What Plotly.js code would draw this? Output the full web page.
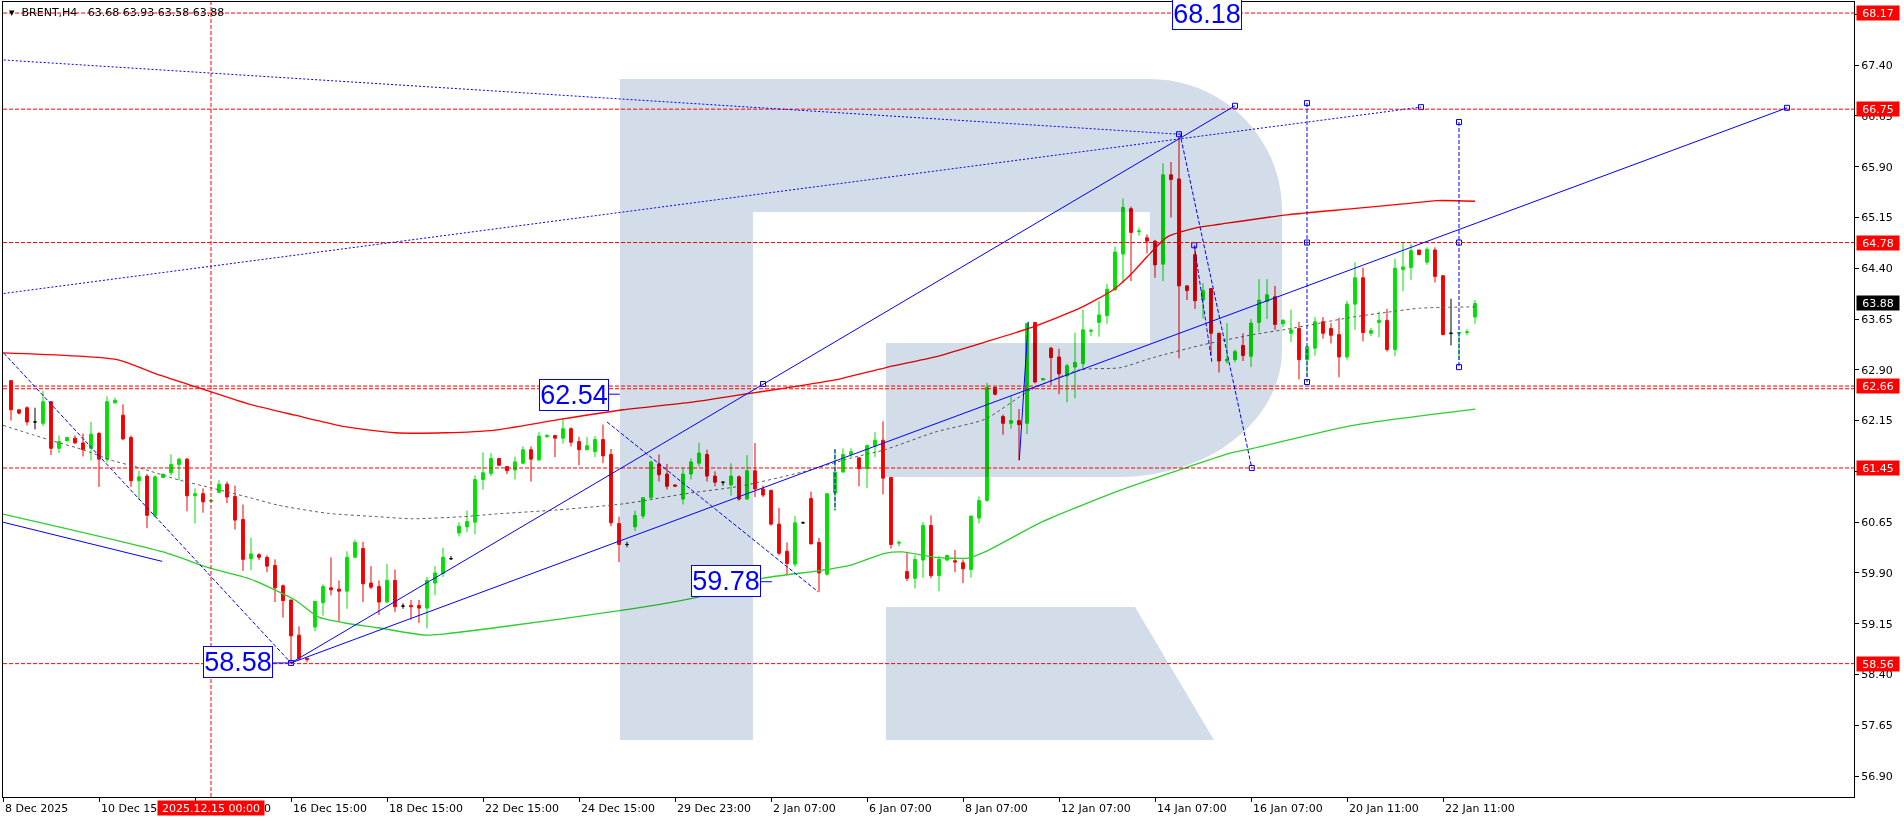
<!DOCTYPE html>
<html><head><meta charset="utf-8">
<script src="https://cdn.plot.ly/plotly-3.0.1.min.js"></script>
<style>html,body{margin:0;padding:0;background:#fff;overflow:hidden}#chart{width:1904px;height:821px}</style>
</head><body><div id="chart"></div>
<script>
// ---------- DATA (bar index = position of H4 bar) ----------
const open  = [62.74,62.31,62.34,62.13,62.11,62.43,61.74,61.85,61.89,61.82,61.74,61.96,61.58,62.41,62.23,61.90,61.26,61.33,60.74,61.31,
61.38,61.50,61.58,61.04,61.07,60.96,61.09,61.21,61.03,60.69,60.11,60.17,60.13,60.01,59.71,59.50,58.98,58.64,59.10,59.46,
59.68,59.66,59.63,60.13,60.26,59.75,59.70,59.47,59.79,59.41,59.42,59.42,59.38,59.75,59.89,60.11,60.49,60.58,60.65,61.28,
61.37,61.59,61.47,61.42,61.52,61.72,61.57,61.91,61.93,61.89,62.03,61.84,61.72,61.69,61.87,61.65,60.63,60.32,60.58,60.74,
61.01,61.51,61.36,61.20,60.99,61.36,61.52,61.65,61.33,61.24,61.20,61.32,60.99,61.41,61.14,61.12,60.62,60.22,60.03,60.64,
61.00,60.35,59.88,61.08,61.39,61.65,61.60,61.44,61.77,61.86,61.31,60.34,59.92,59.82,60.09,60.60,59.86,60.09,60.08,60.05,
59.95,60.71,60.97,62.64,62.21,62.11,62.15,62.11,63.60,62.75,63.22,63.09,62.81,62.94,62.99,63.47,63.60,63.70,64.08,64.61,
65.28,64.94,64.85,64.80,64.46,65.78,65.72,64.14,64.60,63.93,64.10,63.44,63.03,63.05,63.26,63.10,63.60,63.91,63.98,63.58,
63.44,63.51,63.05,63.22,63.61,63.51,63.42,63.09,63.87,64.26,63.44,63.60,63.63,63.20,64.38,64.41,64.67,64.49,64.67,64.29,
63.44,63.44,63.45,63.68];
const high  = [62.74,62.31,62.36,62.34,62.59,62.43,61.93,61.90,61.93,61.96,62.13,61.98,62.51,62.49,62.39,61.93,61.41,61.36,61.34,61.36,
61.65,61.60,61.60,61.15,61.15,60.99,61.27,61.25,61.19,60.91,60.42,60.19,60.16,60.10,59.73,59.50,59.11,58.64,59.48,59.73,
60.13,59.79,60.22,60.39,60.36,60.00,59.79,60.03,59.95,59.45,59.50,59.50,59.84,60.00,60.27,60.15,60.65,60.82,61.34,61.68,
61.67,61.59,61.47,61.62,61.77,61.77,61.98,61.95,61.93,62.19,62.05,61.91,61.91,61.92,62.09,61.73,60.73,60.36,60.82,61.02,
61.56,61.65,61.51,61.20,61.45,61.59,61.82,61.72,61.40,61.24,61.52,61.34,61.64,61.82,61.19,61.12,60.86,60.35,60.74,60.66,
61.10,60.42,61.08,61.72,61.74,61.74,61.60,61.80,61.98,62.14,61.31,60.38,60.20,60.16,60.65,60.75,60.15,60.16,60.24,60.10,
60.74,61.03,62.71,62.64,62.24,62.52,62.32,63.60,63.60,62.77,63.24,63.21,62.99,63.45,63.79,63.51,63.92,64.17,64.72,65.43,
65.31,65.00,64.90,64.82,65.95,65.97,66.34,64.14,64.73,64.18,64.10,63.45,63.59,63.20,63.44,63.65,64.24,64.24,64.14,63.65,
63.79,63.61,63.24,63.68,63.68,63.59,63.67,63.92,64.49,64.41,63.52,63.76,63.80,64.54,64.78,64.76,64.67,64.71,64.71,64.30,
63.95,63.45,63.50,63.93];
const low   = [62.15,62.24,62.08,62.02,62.07,61.64,61.67,61.85,61.81,61.62,61.56,61.17,61.53,62.41,61.86,61.17,60.98,60.56,60.73,61.30,
61.34,61.27,60.81,60.63,60.79,60.94,61.08,60.93,60.54,59.93,59.94,60.09,59.91,59.47,59.24,58.57,58.61,58.58,59.04,59.27,
59.57,59.18,59.37,60.13,59.47,59.66,59.28,59.46,59.32,59.37,59.21,59.16,59.08,59.57,59.84,60.09,60.44,60.50,60.47,61.13,
61.33,61.49,61.36,61.28,61.51,61.25,61.55,61.90,61.61,61.81,61.77,61.49,61.71,61.61,61.52,60.59,60.06,60.28,60.52,60.70,
61.00,61.25,61.13,61.18,60.91,61.28,61.47,61.25,61.18,61.19,61.04,60.97,60.99,61.02,61.02,60.60,60.16,59.87,59.99,60.63,
60.32,59.62,59.86,60.82,61.38,61.61,61.18,61.15,61.61,61.06,60.26,60.29,59.78,59.67,59.83,59.82,59.63,60.07,59.91,59.75,
59.83,60.63,60.95,62.52,61.94,62.03,61.56,61.95,62.70,62.75,62.67,62.54,62.42,62.48,62.92,63.40,63.39,63.58,64.07,64.18,
64.21,64.88,64.62,64.26,64.21,65.15,63.07,63.93,63.80,63.66,63.12,62.86,62.99,63.01,63.03,62.94,63.46,63.65,63.49,63.53,
63.31,62.76,62.80,63.11,63.36,63.29,62.79,63.05,63.49,63.32,63.40,63.38,63.17,63.10,64.06,64.23,64.60,64.45,64.19,63.41,
63.26,63.05,63.41,63.58];
const close = [62.31,62.26,62.13,62.13,62.43,61.74,61.84,61.90,61.82,61.72,61.95,61.58,62.43,62.45,61.88,61.26,61.32,60.75,61.32,61.36,
61.50,61.58,61.04,61.07,60.95,60.97,61.21,61.02,60.68,60.10,60.18,60.13,60.00,59.68,59.49,58.97,58.64,58.62,59.48,59.70,
59.65,59.63,60.13,60.35,59.74,59.69,59.47,59.79,59.40,59.41,59.40,59.38,59.79,59.90,60.13,60.11,60.59,60.66,61.28,61.38,
61.59,61.49,61.41,61.54,61.72,61.58,61.92,61.93,61.89,62.03,61.83,61.72,61.78,61.87,61.63,60.64,60.32,60.32,60.75,61.01,
61.54,61.35,61.18,61.18,61.36,61.54,61.67,61.33,61.24,61.24,61.33,60.99,61.41,61.14,61.05,60.62,60.19,60.04,60.64,60.64,
60.33,59.90,61.07,61.39,61.65,61.69,61.44,61.78,61.86,61.30,60.32,60.35,59.82,60.10,60.60,59.86,60.10,60.16,60.06,59.96,
60.74,60.97,62.64,62.54,62.11,62.15,62.09,63.58,62.72,62.77,63.08,62.84,62.96,63.01,63.49,63.48,63.71,64.09,64.64,65.30,
64.93,64.95,64.80,64.45,65.78,65.71,64.14,64.07,63.92,64.07,63.44,63.03,63.06,63.17,63.11,63.59,63.93,64.01,63.57,63.63,
63.49,63.05,63.24,63.61,63.44,63.41,63.09,63.87,64.26,63.45,63.48,63.63,63.20,64.40,64.42,64.66,64.60,64.68,64.28,63.42,
63.44,63.45,63.46,63.88];

// time axis labels (bar index of each label)
const timeTickIndex = [-1,11,23,35,47,59,71,83,95,107,119,131,143,155,167,179];
const timeTickLabels = ['8 Dec 2025','10 Dec 15:00','12 Dec 15:00','16 Dec 15:00','18 Dec 15:00','22 Dec 15:00','24 Dec 15:00',
  '29 Dec 23:00','2 Jan 07:00','6 Jan 07:00','8 Jan 07:00','12 Jan 07:00','14 Jan 07:00','16 Jan 07:00','20 Jan 11:00','22 Jan 11:00'];
const crosshairIndex = 25;
const crosshairLabel = '2025.12.15 00:00';

// price axis
const priceTicks = [56.90,57.65,58.40,59.15,59.90,60.65,61.40,62.15,62.90,63.65,64.40,65.15,65.90,66.65,67.40,68.15];
const levelPrices = [68.17,66.75,64.78,62.66,61.45,58.56];
const extraLevel = [62.62];
const lastPrice = 63.88;

// moving averages, read at sampled bars
const redMaIdx = [-1,13.25,18.6,23.6,29.9,35.5,41.75,48,54.25,60.5,68.25,76.5,84.9,91.1,96.75,103,109.25,115.5,121.75,127.4,133.6,137.75,139.9,142,144.5,148.25,151.1,159.5,167.75,174,178.25,183];
const redMaVal = [63.15,63.05,62.82,62.63,62.39,62.23,62.06,61.97,61.97,62.01,62.16,62.31,62.42,62.53,62.63,62.75,62.93,63.09,63.31,63.52,63.81,64.08,64.30,64.57,64.86,65.00,65.05,65.19,65.28,65.35,65.40,65.39];
const greenMaIdx = [-1,19,24.9,29.9,35.5,38.4,41.75,45.9,51.75,54.25,60.5,76.5,85.75,93.9,100.9,105.1,109.25,111.4,115.5,119.6,121.75,129,138.6,147,152.4,155.25,167.75,183];
const greenMaVal = [60.77,60.21,59.97,59.81,59.50,59.25,59.16,59.09,58.98,59.00,59.09,59.35,59.54,59.82,59.93,60.02,60.19,60.21,60.13,60.12,60.21,60.66,61.12,61.46,61.67,61.74,62.08,62.32];
const greyMaIdx = [-1,2.75,4.9,9,12.4,16.1,21.1,25.25,29.9,33.4,39.6,45.9,50.1,56.4,60.5,68.25,76.5,84.9,91.1,98.9,105.1,109.25,115.5,121.75,127.4,133.6,138.6,142.75,149,155.25,159.5,163.6,167.75,172,176.1,183];
const greyMaVal = [62.08,61.94,61.86,61.72,61.57,61.45,61.27,61.15,61.01,60.90,60.78,60.73,60.70,60.73,60.77,60.83,60.92,61.08,61.18,61.39,61.60,61.72,61.98,62.17,62.60,62.90,62.93,63.08,63.27,63.42,63.50,63.59,63.68,63.75,63.81,63.83];

// drawn objects (bar index, price)
const solidLines  = [[35,58.57,153,66.80],[35,58.57,222,66.77],[-1.04,60.65,18.9,60.07],[126.04,61.57,127.16,63.61],
                     [32.75,58.57,35,58.57],[74.75,62.54,76.1,62.54],[93.75,59.77,95.1,59.77]];
const dottedLines = [[-1.4,67.48,146,66.38],[-1.4,64.02,176.25,66.78]];
const dashedLines = [[-1.4,63.21,35,58.57],[74.5,62.13,100.9,59.62],[146.1,66.40,155.1,61.45],[147.9,64.74,150.1,63.02],
                     [103,61.73,103,60.83],[162,66.84,162,62.72],[181,66.56,181,62.94]];
const anchorIdx   = [35,94,153,222,176.25,162,162,162,181,181,181,155.1,146,147.9];
const anchorPrice = [58.57,62.69,66.80,66.77,66.78,66.84,64.78,62.72,66.56,64.78,62.94,61.45,66.38,64.74];
const boxLabels = ['58.58','62.54','59.78','68.18'];
const boxIdx    = [28.4,70.4,89.4,149.5];
const boxPrice  = [58.58,62.535,59.78,68.15];
const headerText = '\u25BE\u00A0\u00A0BRENT,H4\u00A0\u00A0\u00A063.68\u00A063.93\u00A063.58\u00A063.88';

// ---------- STYLE / LAYOUT ----------
const W = 1904, H = 821, PL = 3, PR = 1854, PT = 2, PB = 797;
const UP = '#00e000', DN = '#f00000', BLUE = '#0000ff', LEVEL = '#ff0000';
const FONT = 'DejaVu Sans';

const idx = open.map((_, k) => k);
const normal = idx.filter(k => open[k] !== close[k]);
const doji = idx.filter(k => open[k] === close[k]);
const pick = (a, ks) => ks.map(k => a[k]);

const traces = [
  {type:'candlestick', x:normal, open:pick(open,normal), high:pick(high,normal), low:pick(low,normal), close:pick(close,normal),
   increasing:{line:{color:UP,width:1}, fillcolor:UP}, decreasing:{line:{color:DN,width:1}, fillcolor:DN},
   whiskerwidth:0, hoverinfo:'skip', showlegend:false},
  {type:'candlestick', x:doji, open:pick(open,doji), high:pick(high,doji), low:pick(low,doji), close:pick(close,doji),
   increasing:{line:{color:'#000',width:1}, fillcolor:'#000'}, decreasing:{line:{color:'#000',width:1}, fillcolor:'#000'},
   whiskerwidth:0, hoverinfo:'skip', showlegend:false},
  {type:'scatter', mode:'lines', x:redMaIdx, y:redMaVal, line:{color:'#ff0000', width:1.3, shape:'spline', smoothing:0.6}, hoverinfo:'skip'},
  {type:'scatter', mode:'lines', x:greenMaIdx, y:greenMaVal, line:{color:'#2fcc2f', width:1.3, shape:'spline', smoothing:0.6}, hoverinfo:'skip'},
  {type:'scatter', mode:'lines', x:greyMaIdx, y:greyMaVal, line:{color:'#5e5e5e', width:1, dash:'3px,3px', shape:'spline', smoothing:0.6}, hoverinfo:'skip'},
  {type:'scatter', mode:'markers', x:anchorIdx, y:anchorPrice, marker:{symbol:'square-open', size:5, color:BLUE, line:{width:1, color:BLUE}}, hoverinfo:'skip', cliponaxis:true}
];

// logo (pixel geometry -> paper)
const px = x => ((x - PL) / (PR - PL)).toFixed(5);
const py = y => ((PB - y) / (PB - PT)).toFixed(5);
const pt = (x, y) => px(x) + ',' + py(y);
const logoBody = 'M' + pt(620,79) + ' L' + pt(1150,79) + ' C' + pt(1223,79) + ' ' + pt(1282,138) + ' ' + pt(1282,210) +
  ' L' + pt(1282,350) + ' C' + pt(1282,420) + ' ' + pt(1209,477) + ' ' + pt(1120,477) + ' L' + pt(886,477) + ' L' + pt(886,343) +
  ' L' + pt(1150,343) + ' L' + pt(1150,212) + ' L' + pt(753,212) + ' L' + pt(753,740) + ' L' + pt(620,740) + ' Z';
const logoLeg = 'M' + pt(886,607) + ' L' + pt(1135,607) + ' L' + pt(1214,740) + ' L' + pt(886,740) + ' Z';

// logo drawn over the price data and multiplied with it (like the terminal's background bitmap)
const shapes = [
  {type:'path', xref:'paper', yref:'paper', path:logoBody, fillcolor:'#d3dde9', line:{width:0}, layer:'above'},
  {type:'path', xref:'paper', yref:'paper', path:logoLeg, fillcolor:'#d3dde9', line:{width:0}, layer:'above'}
];
levelPrices.concat(extraLevel).forEach(p => shapes.push({type:'line', xref:'paper', yref:'y', x0:0, x1:1, y0:p, y1:p,
  line:{color:LEVEL, width:1, dash:'4px,2px'}}));
shapes.push({type:'line', xref:'x', yref:'paper', x0:crosshairIndex, x1:crosshairIndex, y0:0, y1:1, line:{color:LEVEL, width:1, dash:'4px,2px'}});
const addLines = (list, dash) => list.forEach(s => shapes.push({type:'line', xref:'x', yref:'y', x0:s[0], y0:s[1], x1:s[2], y1:s[3],
  line:{color:BLUE, width:1, dash:dash}}));
addLines(solidLines, 'solid');
addLines(dottedLines, '2px,2px');
addLines(dashedLines, '4px,2px');

const annotations = [];
timeTickIndex.forEach((t, k) => annotations.push({xref:'x', yref:'paper', x:t, y:0, xanchor:'left', yanchor:'middle', yshift:-11,
  text:timeTickLabels[k], showarrow:false, font:{family:FONT, size:11, color:'#000'}}));
annotations.push({xref:'x', yref:'paper', x:crosshairIndex, y:0, xanchor:'center', yanchor:'middle', yshift:-11, text:crosshairLabel,
  showarrow:false, bgcolor:'#ff0000', width:104, height:12, borderpad:1, font:{family:FONT, size:11, color:'#fff'}});
levelPrices.forEach(p => annotations.push({xref:'paper', yref:'y', x:1, y:p, xanchor:'left', yanchor:'middle', xshift:2,
  text:p.toFixed(2), showarrow:false, bgcolor:'#ff0000', width:40, height:12, borderpad:1, font:{family:FONT, size:11, color:'#fff'}}));
annotations.push({xref:'paper', yref:'y', x:1, y:lastPrice, xanchor:'left', yanchor:'middle', xshift:2,
  text:lastPrice.toFixed(2), showarrow:false, bgcolor:'#000', width:40, height:12, borderpad:1, font:{family:FONT, size:11, color:'#fff'}});
boxLabels.forEach((t, k) => annotations.push({xref:'x', yref:'y', x:boxIdx[k], y:boxPrice[k], xanchor:'center', yanchor:'middle',
  text:t, showarrow:false, bgcolor:'#fff', bordercolor:BLUE, borderwidth:1, borderpad:0, width:68, height:30,
  font:{family:'Liberation Sans', size:27, color:BLUE}}));
annotations.push({xref:'paper', yref:'paper', x:0, y:1, xanchor:'left', yanchor:'middle', xshift:4, yshift:-10,
  text:headerText, showarrow:false, font:{family:FONT, size:11, color:'#000'}});

const layout = {
  width:W, height:H, margin:{l:PL, r:W-PR, t:PT, b:H-PB, pad:0},
  paper_bgcolor:'#fff', plot_bgcolor:'#fff', showlegend:false, boxgap:0.5, hovermode:false,
  font:{family:FONT, size:11, color:'#000'},
  xaxis:{type:'linear', range:[-1, -1 + (PR-PL)/8], showgrid:false, zeroline:false, showline:true, mirror:true, linecolor:'#000', linewidth:1,
         ticks:'outside', ticklen:4, tickcolor:'#000', tickvals:timeTickIndex, ticktext:timeTickIndex.map(() => ''),
         rangeslider:{visible:false}, fixedrange:true},
  yaxis:{side:'right', range:[56.59, 68.333], showgrid:false, zeroline:false, showline:true, mirror:true, linecolor:'#000', linewidth:1,
         ticks:'outside', ticklen:4, tickcolor:'#000', tickvals:priceTicks, ticktext:priceTicks.map(v => v.toFixed(2)),
         tickfont:{family:FONT, size:11, color:'#000'}, fixedrange:true},
  shapes:shapes, annotations:annotations
};
Plotly.newPlot('chart', traces, layout, {staticPlot:true, displayModeBar:false}).then(gd => {
  gd.querySelectorAll('.layer-above .shapelayer path').forEach(el => {
    const i = el.getAttribute('data-index');
    if (i === '0' || i === '1') el.style.mixBlendMode = 'multiply';
  });
});
</script>
</body></html>
